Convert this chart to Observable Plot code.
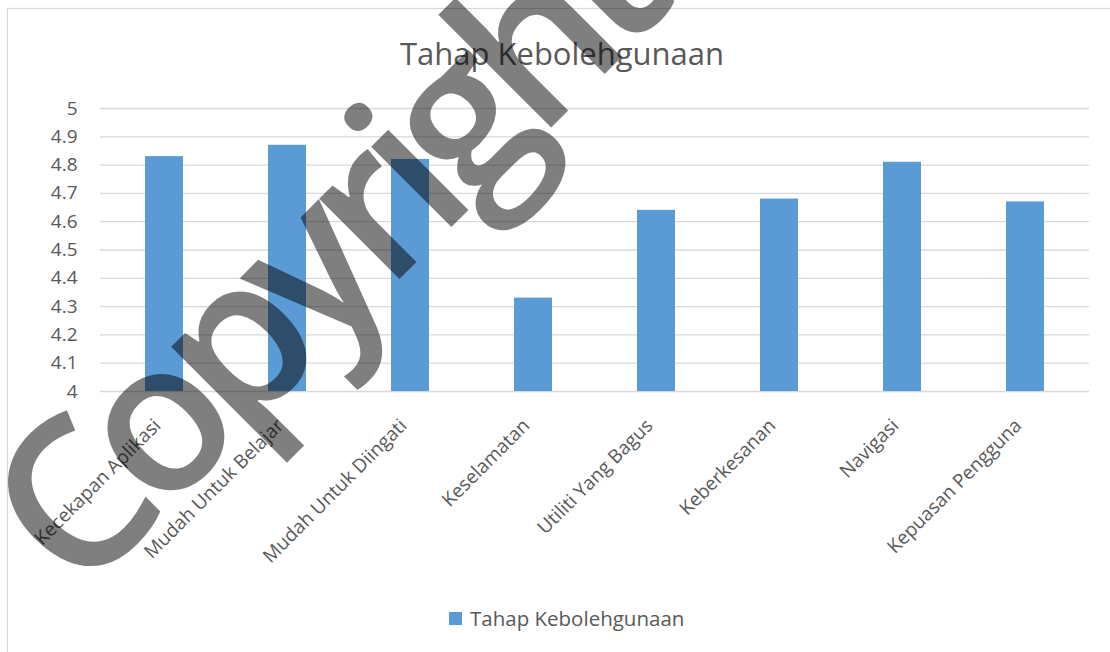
<!DOCTYPE html>
<html><head><meta charset="utf-8">
<script src="https://cdn.jsdelivr.net/npm/d3@7"></script>
<script src="https://cdn.jsdelivr.net/npm/@observablehq/plot@0.6"></script>
<style>
html,body{margin:0;padding:0;background:#fff;}
#wrap{position:relative;width:1110px;height:652px;overflow:hidden;font-family:"Open Sans",sans-serif;}
#chart{position:absolute;left:0;top:0;}
#overlay{position:absolute;left:0;top:0;pointer-events:none;}
</style></head><body>
<div id="wrap"><div id="chart"></div><svg id="overlay" width="1110" height="652"></svg></div>
<script>
const categories = ["Kecekapan Aplikasi","Mudah Untuk Belajar","Mudah Untuk Diingati","Keselamatan","Utiliti Yang Bagus","Keberkesanan","Navigasi","Kepuasan Pengguna"];
const values = [4.83, 4.87, 4.82, 4.33, 4.64, 4.68, 4.81, 4.67];
const yTicks = [4, 4.1, 4.2, 4.3, 4.4, 4.5, 4.6, 4.7, 4.8, 4.9, 5];
const seriesName = "Tahap Kebolehgunaan";
const chartTitle = "Tahap Kebolehgunaan";
const watermark = "Copyright";

const data = categories.map((c, i) => ({category: c, value: values[i]}));
const plot = Plot.plot({
  width: 1110, height: 652,
  marginTop: 108, marginBottom: 261, marginLeft: 100, marginRight: 21,
  style: {fontFamily: '"Open Sans", sans-serif', color: "#595959", background: "transparent"},
  x: {domain: categories, paddingInner: 0.69, paddingOuter: 0.345},
  y: {domain: [4, 5]},
  marks: [
    Plot.ruleY(yTicks, {stroke: "#D9D9D9", strokeWidth: 1.3}),
    Plot.barY(data, {x: "category", y1: 4, y2: "value", fill: "#5B9BD5"}),
    Plot.axisY(yTicks, {tickSize: 0, tickPadding: 23, fontSize: 19, tickFormat: d => String(d), label: null}),
    Plot.axisX({tickSize: 0, tickPadding: 31, tickRotate: -45, fontSize: 19, label: null, dx: -7})
  ]
});
document.getElementById("chart").appendChild(plot);

const ov = d3.select("#overlay");
ov.append("rect").attr("x", 7.5).attr("y", 8.5).attr("width", 1200).attr("height", 700)
  .attr("fill", "none").attr("stroke", "#D9D9D9").attr("stroke-width", 1.2);
ov.append("text").attr("x", 562).attr("y", 65).attr("text-anchor", "middle")
  .attr("font-size", 31).attr("fill", "#595959").attr("font-family", '"Open Sans", sans-serif')
  .text(chartTitle);
ov.append("rect").attr("x", 449).attr("y", 612).attr("width", 13).attr("height", 13).attr("fill", "#5B9BD5");
ov.append("text").attr("x", 470).attr("y", 626).attr("font-size", 20.5).attr("fill", "#595959")
  .attr("font-family", '"Open Sans", sans-serif').text(seriesName);
ov.append("text").attr("transform", "translate(316,248) rotate(-45)").attr("text-anchor", "middle")
  .attr("dominant-baseline", "central").attr("font-size", 210).attr("font-weight", 600)
  .attr("letter-spacing", -17).attr("fill", "#000").attr("fill-opacity", 0.5)
  .attr("font-family", '"Open Sans", sans-serif').text(watermark);
</script>
</body></html>
